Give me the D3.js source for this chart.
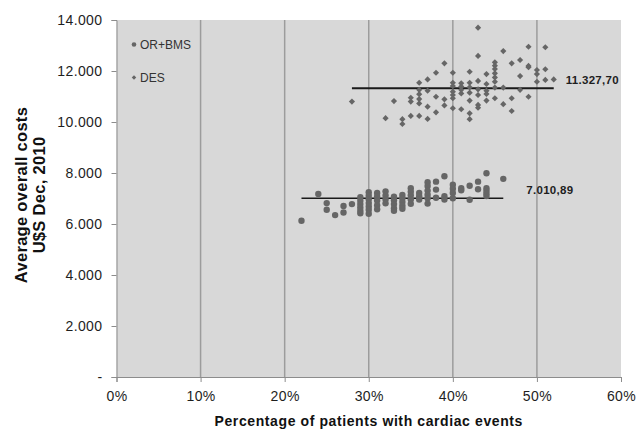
<!DOCTYPE html>
<html>
<head>
<meta charset="utf-8">
<script src="https://cdn.jsdelivr.net/npm/d3@7/dist/d3.min.js"></script>
<style>
  body { margin: 0; background: #fff; }
  svg { display: block; font-family: "Liberation Sans", Arial, sans-serif; }
</style>
</head>
<body>
<svg id="chart" width="636" height="431"></svg>
<script>
// x = % patients with cardiac events, y = average overall cost (U$S)
var desPct = [28, 32, 33, 34, 34, 35, 35, 35,
  36, 36, 36, 36, 36, 36, 37, 37, 37, 37, 38, 38, 38, 39, 39, 39,
  40, 40, 40, 40, 40, 40, 40, 41, 41, 41, 41, 41,
  42, 42, 42, 42, 42, 42, 42, 43, 43, 43, 43, 43, 43, 43,
  44, 44, 44, 44, 44, 45, 45, 45, 45, 45, 45, 45, 45,
  46, 46, 46, 47, 47, 47, 48, 48, 48, 49, 49, 49, 49,
  50, 50, 50, 51, 51, 51, 52];
var desCost = [10800, 10150, 10820, 10110, 9920, 10950, 10800, 10240,
  11540, 11260, 11090, 10900, 10730, 10240, 11670, 11230, 10600, 10120, 11930, 10990, 10380, 12300, 10890, 10650,
  11930, 11540, 11410, 11190, 11060, 10930, 10540, 11520, 11390, 11260, 11120, 10500,
  11970, 11540, 11360, 11150, 10840, 10340, 10110, 13700, 12590, 11610, 11280, 11060, 10670, 10560,
  11880, 11490, 11230, 11100, 10840, 12340, 12210, 12080, 11910, 11750, 11580, 11350, 10930,
  12780, 11350, 10700, 12300, 10930, 10430, 12430, 11800, 11260, 12950, 12200, 12150, 10990,
  12040, 11880, 11580, 12930, 12070, 11650, 11670];

var bmsPct = [22, 24, 25, 25, 26, 27, 27, 28,
  29, 29, 29, 29, 29, 29, 30, 30, 30, 30, 30, 30, 30,
  31, 31, 31, 31, 31, 32, 32, 32, 32, 33, 33, 33, 33, 33,
  34, 34, 34, 34, 34, 35, 35, 35, 35, 35, 36, 36, 36,
  37, 37, 37, 37, 37, 37, 38, 38, 38, 39, 39, 39,
  40, 40, 40, 40, 41, 41, 42, 42, 43, 43,
  44, 44, 44, 44, 44, 46];
var bmsCost = [6130, 7180, 6820, 6560, 6350, 6710, 6450, 6780,
  7050, 6915, 6780, 6650, 6520, 6420, 7250, 7110, 6970, 6820, 6690, 6560, 6400,
  7220, 7080, 6920, 6740, 6580, 7280, 7120, 6960, 6810, 7070, 6930, 6780, 6620, 6520,
  7140, 7010, 6860, 6720, 6600, 7400, 7270, 7130, 6960, 6790, 7220, 7090, 6960,
  7640, 7490, 7310, 7150, 7010, 6800, 7660, 7350, 7030, 7870, 7090, 6960,
  7540, 7380, 7220, 7010, 7400, 7320, 7500, 6950, 7660, 7360,
  7990, 7400, 7300, 7200, 7100, 7770];

var seriesNames = ["OR+BMS", "DES"];
var meanCost = [7010.89, 11327.70];
var meanLabels = ["7.010,89", "11.327,70"];

var xTicks = [0, 10, 20, 30, 40, 50, 60];
var yTicks = [0, 2000, 4000, 6000, 8000, 10000, 12000, 14000];

var svg = d3.select("#chart");
var plotL = 116.5, plotR = 621, plotT = 20, plotB = 377;

var x = d3.scaleLinear().domain([0, 60]).range([plotL, plotR]);
var y = d3.scaleLinear().domain([0, 14000]).range([plotB, plotT]);

var dotColor = "#666";

// plot area
svg.append("rect")
    .attr("x", plotL).attr("y", plotT)
    .attr("width", plotR - plotL).attr("height", plotB - plotT)
    .attr("fill", "#d8d8d8");

// vertical grid
svg.append("g")
    .selectAll("line")
    .data(xTicks.slice(1, -1))
    .enter().append("line")
    .attr("x1", function(d){ return x(d); })
    .attr("x2", function(d){ return x(d); })
    .attr("y1", plotT).attr("y2", plotB)
    .style("stroke", "#9c9c9c")
    .style("stroke-width", 1.5);

// axes
function fmtCost(d){
    return d === 0 ? "-" : d3.format(",")(d).replace(/,/g, ".");
}
var yAxis = svg.append("g")
    .attr("transform", "translate(" + plotL + ",0)")
    .call(d3.axisLeft(y).tickValues(yTicks).tickFormat(fmtCost).tickSize(5).tickPadding(9));
var xAxis = svg.append("g")
    .attr("transform", "translate(0," + plotB + ")")
    .call(d3.axisBottom(x).tickValues(xTicks).tickFormat(function(d){ return d + "%"; }).tickSize(5).tickPadding(9));

[yAxis, xAxis].forEach(function(ax){
    ax.select(".domain").style("stroke", "#8c8c8c");
    ax.selectAll(".tick line").style("stroke", "#8c8c8c");
    ax.selectAll(".tick text")
        .style("font-size", "14px")
        .style("letter-spacing", "0.4px")
        .style("fill", "#1e1e1e")
        .style("font-family", "Liberation Sans, Arial, sans-serif");
});

// mean lines
var meanLines = [
    {pct: bmsPct, cost: meanCost[0], label: meanLabels[0], width: 1.4, dx: 23},
    {pct: desPct, cost: meanCost[1], label: meanLabels[1], width: 2, dx: 12}
];
meanLines.forEach(function(m){
    var x0 = d3.min(m.pct), x1 = d3.max(m.pct);
    svg.append("line")
        .attr("x1", x(x0)).attr("x2", x(x1))
        .attr("y1", y(m.cost)).attr("y2", y(m.cost))
        .style("stroke", "#1a1a1a")
        .style("stroke-width", m.width);
    svg.append("text")
        .attr("x", x(x1) + m.dx)
        .attr("y", y(m.cost) - 4)
        .style("font-size", "11.5px")
        .style("letter-spacing", "0.3px")
        .style("font-weight", "bold")
        .style("fill", "#1e1e1e")
        .text(m.label);
});

// DES diamonds (square turned 45 degrees)
var diamond = d3.symbol().type(d3.symbolSquare).size(19);
svg.append("g")
    .selectAll("path")
    .data(desPct.map(function(p, i){ return [p, desCost[i]]; }))
    .enter().append("path")
    .attr("d", diamond)
    .attr("transform", function(d){ return "translate(" + x(d[0]) + "," + y(d[1]) + ") rotate(45)"; })
    .attr("fill", dotColor);

// OR+BMS circles
svg.append("g")
    .selectAll("circle")
    .data(bmsPct.map(function(p, i){ return [p, bmsCost[i]]; }))
    .enter().append("circle")
    .attr("cx", function(d){ return x(d[0]); })
    .attr("cy", function(d){ return y(d[1]); })
    .attr("r", 3.2)
    .attr("fill", dotColor);

// legend
var legend = svg.append("g");
legend.append("circle").attr("cx", 134).attr("cy", 44.5).attr("r", 2.3).attr("fill", dotColor);
legend.append("path")
    .attr("d", d3.symbol().type(d3.symbolSquare).size(10))
    .attr("transform", "translate(134,77.5) rotate(45)")
    .attr("fill", dotColor);
legend.selectAll("text")
    .data(seriesNames)
    .enter().append("text")
    .attr("x", 140)
    .attr("y", function(d, i){ return 49 + i * 33; })
    .style("font-size", "12px")
    .style("fill", "#333")
    .text(function(d){ return d; });

// axis titles
svg.append("text")
    .attr("x", (plotL + plotR) / 2)
    .attr("y", 426)
    .attr("text-anchor", "middle")
    .style("font-size", "14px")
    .style("letter-spacing", "0.6px")
    .style("font-weight", "bold")
    .style("fill", "#111")
    .text("Percentage of patients with cardiac events");

var yTitle = svg.append("text")
    .attr("transform", "translate(0,195) rotate(-90)")
    .attr("text-anchor", "middle")
    .style("font-size", "16.5px")
    .style("letter-spacing", "0.3px")
    .style("font-weight", "bold")
    .style("fill", "#111");
yTitle.append("tspan").attr("x", 0).attr("y", 27).text("Average overall costs");
yTitle.append("tspan").attr("x", 0).attr("y", 45).text("U$S Dec, 2010");
</script>
</body>
</html>
